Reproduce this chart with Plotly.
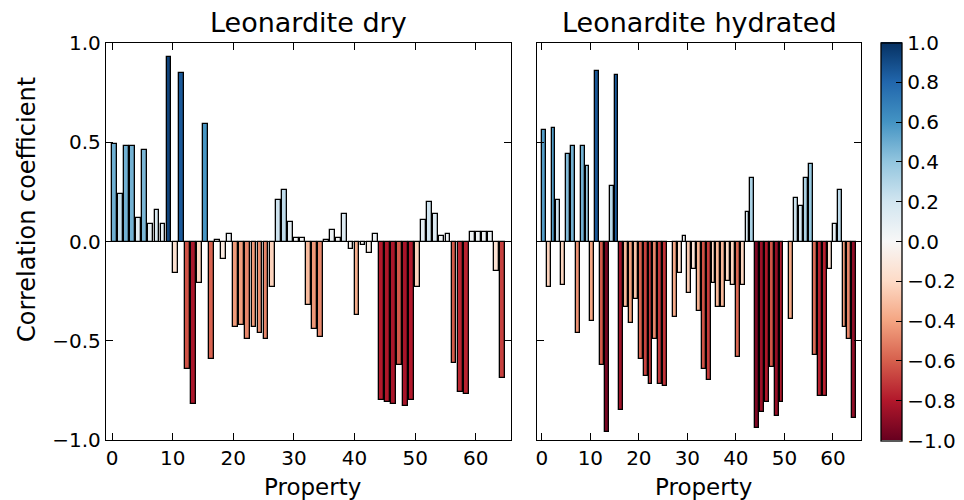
import plotly.graph_objects as go

# Correlation of each property with the response, per sample state
properties = list(range(65))

dry_corr = [
    0.49, 0.24, 0.48, 0.48, 0.12, 0.46, 0.09, 0.16, 0.09, 0.93,
    -0.16, 0.85, -0.64, -0.82, -0.21, 0.59, -0.59, 0.01, -0.09, 0.04,
    -0.43, -0.42, -0.49, -0.43, -0.46, -0.49, -0.23, 0.21, 0.26, 0.10,
    0.02, 0.02, -0.32, -0.44, -0.48, 0.01, 0.06, 0.02, 0.14, -0.04,
    -0.37, -0.02, -0.06, 0.04, -0.80, -0.81, -0.82, -0.62, -0.83, -0.80,
    -0.23, 0.11, 0.20, 0.14, 0.03, 0.04, -0.61, -0.76, -0.77, 0.05,
    0.05, 0.05, 0.05, -0.15, -0.69,
]

hydrated_corr = [
    0.56, -0.23, 0.57, 0.21, -0.22, 0.44, 0.48, -0.46, 0.48, 0.38,
    -0.40, 0.86, -0.62, -0.96, 0.28, 0.84, -0.85, -0.33, -0.41, -0.29,
    -0.59, -0.68, -0.72, -0.49, -0.72, -0.73, None, -0.38, -0.16, 0.03,
    -0.26, -0.14, -0.35, -0.64, -0.70, -0.21, -0.33, -0.33, -0.20, -0.22,
    -0.58, -0.22, 0.15, 0.32, -0.94, -0.86, -0.81, -0.63, -0.88, -0.81,
    None, -0.39, 0.22, 0.18, 0.32, 0.39, -0.57, -0.78, -0.78, -0.14,
    0.09, 0.26, -0.43, -0.49, -0.89,
]

panel_titles = ["Leonardite dry", "Leonardite hydrated"]
y_ticks = [-1.0, -0.5, 0.0, 0.5, 1.0]
y_ticktext = ["\u22121.0", "\u22120.5", "0.0", "0.5", "1.0"]
x_ticks = [0, 10, 20, 30, 40, 50, 60]
cbar_ticks = [-1.0, -0.8, -0.6, -0.4, -0.2, 0.0, 0.2, 0.4, 0.6, 0.8, 1.0]
cbar_ticktext = [("\u2212" if v < 0 else "") + f"{abs(v):.1f}" for v in cbar_ticks]

# Diverging red-blue colour map (ColorBrewer RdBu, red = -1, blue = +1)
rdbu = ["#67001f", "#b2182b", "#d6604d", "#f4a582", "#fddbc7", "#f7f7f7",
        "#d1e5f0", "#92c5de", "#4393c3", "#2166ac", "#053061"]
colorscale = [[i / (len(rdbu) - 1), c] for i, c in enumerate(rdbu)]

W, H = 964, 500
FONT = "DejaVu Sans"

# Panel geometry in pixels
left_px = (106, 511)
right_px = (537, 861)
top_px, bottom_px = 43, 440


def xdom(px):
    return [px[0] / W, px[1] / W]


ydom = [1 - bottom_px / H, 1 - top_px / H]

fig = go.Figure()

for k, vals in enumerate([dry_corr, hydrated_corr]):
    colors = [0.0 if v is None else v for v in vals]
    marker = dict(
        color=colors, colorscale=colorscale, cmin=-1, cmax=1,
        line=dict(color="black", width=1.3),
    )
    if k == 1:
        marker["showscale"] = True
        marker["colorbar"] = dict(
            x=881 / W, xanchor="left", xpad=0,
            y=1 - 241.5 / H, yanchor="middle", ypad=0,
            len=(440.5 - 42.5) / H, lenmode="fraction",
            thickness=21, thicknessmode="pixels",
            outlinecolor="black", outlinewidth=1.3,
            tickmode="array", tickvals=cbar_ticks, ticktext=cbar_ticktext,
            ticks="inside", ticklen=6, tickcolor="black", tickwidth=1,
            tickfont=dict(family=FONT, size=20, color="black"),
        )
    else:
        marker["showscale"] = False
    fig.add_trace(go.Bar(
        x=properties, y=vals, width=0.8, offset=0,
        marker=marker,
        xaxis="x" if k == 0 else "x2",
        yaxis="y" if k == 0 else "y2",
        showlegend=False, hoverinfo="x+y",
    ))

axis_common = dict(
    showline=True, linecolor="black", linewidth=1.3, mirror="ticks",
    ticks="inside", ticklen=7, tickwidth=1, tickcolor="black",
    showgrid=False, tickfont=dict(family=FONT, size=20, color="black"),
)

fig.update_layout(
    width=W, height=H,
    margin=dict(l=0, r=0, t=0, b=0, autoexpand=False),
    paper_bgcolor="white", plot_bgcolor="white",
    font=dict(family=FONT, color="black"),
    bargap=0,
    xaxis=dict(domain=xdom(left_px), range=[-1, 65.8], anchor="y",
               tickmode="array", tickvals=x_ticks, zeroline=False,
               **axis_common),
    yaxis=dict(domain=ydom, range=[-1, 1], anchor="x",
               tickmode="array", tickvals=y_ticks, ticktext=y_ticktext,
               zeroline=True, zerolinecolor="black", zerolinewidth=1.3,
               **axis_common),
    xaxis2=dict(domain=xdom(right_px), range=[-1, 65.8], anchor="y2",
                tickmode="array", tickvals=x_ticks, zeroline=False,
                **axis_common),
    yaxis2=dict(domain=ydom, range=[-1, 1], anchor="x2",
                tickmode="array", tickvals=y_ticks, showticklabels=False,
                zeroline=True, zerolinecolor="black", zerolinewidth=1.3,
                **axis_common),
)

annotations = []
for title, px in zip(panel_titles, [left_px, right_px]):
    cx = (px[0] + px[1]) / 2 / W
    annotations.append(dict(
        text=title, x=cx, y=1 - 22 / H, xref="paper", yref="paper",
        xanchor="center", yanchor="middle", showarrow=False,
        font=dict(family=FONT, size=27, color="black"),
    ))
    annotations.append(dict(
        text="Property", x=cx + 4 / W, y=1 - 487 / H, xref="paper", yref="paper",
        xanchor="center", yanchor="middle", showarrow=False,
        font=dict(family=FONT, size=23, color="black"),
    ))
annotations.append(dict(
    text="Correlation coefficient", x=27 / W, y=1 - 210 / H,
    xref="paper", yref="paper", xanchor="center", yanchor="middle",
    textangle=-90, showarrow=False,
    font=dict(family=FONT, size=24, color="black"),
))
fig.update_layout(annotations=annotations)

fig.write_html("out.html")
